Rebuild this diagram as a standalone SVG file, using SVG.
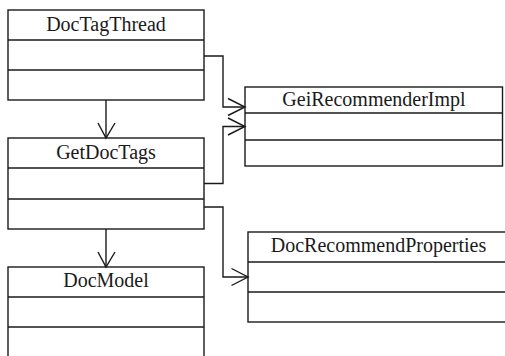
<svg xmlns="http://www.w3.org/2000/svg" width="505" height="356" viewBox="0 0 505 356">
  <style>
    .box { fill: #ffffff; stroke: #1a1a1a; stroke-width: 1.4; }
    .div { stroke: #1a1a1a; stroke-width: 1.4; }
    .name { font-family: "Liberation Serif", "Times New Roman", serif; font-size: 20px; fill: #1a1a1a; text-anchor: middle; }
    .edge { fill: none; stroke: #1a1a1a; stroke-width: 1.4; }
  </style>
  <rect width="505" height="356" fill="#ffffff"/>

  <!-- class boxes -->
  <g id="DocTagThread">
    <rect class="box" x="8" y="10" width="196" height="90"/>
    <line class="div" x1="8" y1="40" x2="204" y2="40"/>
    <line class="div" x1="8" y1="70" x2="204" y2="70"/>
    <text class="name" x="106" y="31">DocTagThread</text>
  </g>

  <g id="GetDocTags">
    <rect class="box" x="8" y="138" width="196" height="91"/>
    <line class="div" x1="8" y1="168" x2="204" y2="168"/>
    <line class="div" x1="8" y1="199" x2="204" y2="199"/>
    <text class="name" x="106" y="158.5">GetDocTags</text>
  </g>

  <g id="DocModel">
    <rect class="box" x="8" y="267" width="196" height="92"/>
    <line class="div" x1="8" y1="297" x2="204" y2="297"/>
    <line class="div" x1="8" y1="327" x2="204" y2="327"/>
    <text class="name" x="106" y="287">DocModel</text>
  </g>

  <g id="GeiRecommenderImpl">
    <rect class="box" x="245" y="87" width="257.5" height="79"/>
    <line class="div" x1="245" y1="113" x2="502.5" y2="113"/>
    <line class="div" x1="245" y1="140" x2="502.5" y2="140"/>
    <text class="name" x="374" y="105.5">GeiRecommenderImpl</text>
  </g>

  <g id="DocRecommendProperties">
    <rect class="box" x="248" y="232" width="262" height="90"/>
    <line class="div" x1="248" y1="262" x2="510" y2="262"/>
    <line class="div" x1="248" y1="292" x2="510" y2="292"/>
    <text class="name" x="378.5" y="252">DocRecommendProperties</text>
  </g>

  <!-- connectors with open arrowheads -->
  <g id="connectors">
    <path class="edge" d="M106,100 V138"/>
    <path class="edge" d="M98,123 L106,138 L115,123"/>

    <path class="edge" d="M106,229 V267"/>
    <path class="edge" d="M98,252 L106,267 L115,252"/>

    <path class="edge" d="M204,56 H223 V107 H245"/>
    <path class="edge" d="M228,98.5 L245,107 L228,115.5"/>

    <path class="edge" d="M204,183.5 H223 V126.5 H245"/>
    <path class="edge" d="M228,118 L245,126.5 L228,135"/>

    <path class="edge" d="M204,207 H223 V277 H248"/>
    <path class="edge" d="M231.5,268.5 L248,277 L231.5,285.5"/>
  </g>
</svg>
